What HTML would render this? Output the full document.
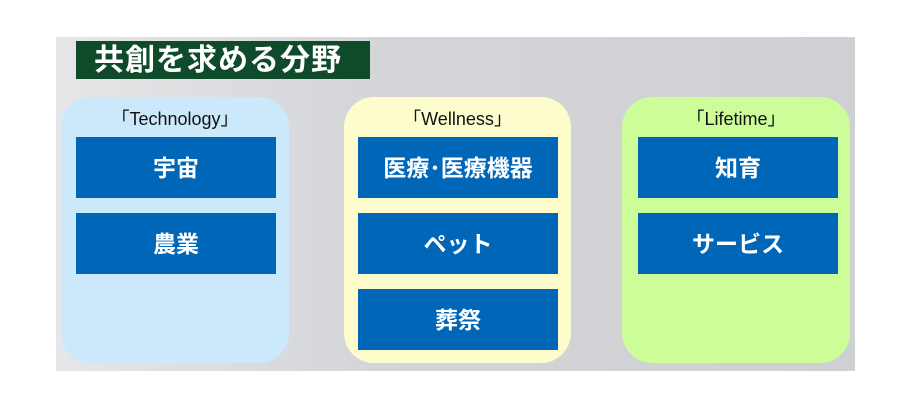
<!DOCTYPE html>
<html><head><meta charset="utf-8"><style>
body{margin:0;width:909px;height:408px;background:#fff;position:relative;overflow:hidden;font-family:"Liberation Sans","Noto Sans CJK JP",sans-serif}
.bg{position:absolute;left:56px;top:37px;width:799px;height:334px;background:linear-gradient(90deg,#e6e6e8 0%,#d4d5d9 40%,#cfd0d4 100%)}
.title{position:absolute;left:76px;top:41px;width:294px;height:38px;background:#0f4a2a;color:#fff;font-size:30px;font-weight:bold;line-height:40px;padding-left:18px;box-sizing:border-box;letter-spacing:1px}
.p{position:absolute;top:97px;height:266px;border-radius:30px}
.h{position:absolute;top:8px;left:0;right:0;text-align:center;font-size:18px;color:#111}
.b{position:absolute;width:200px;height:61px;background:#0066b8;color:#fff;font-weight:bold;font-size:23px;line-height:63px;text-align:center}
</style></head><body>
<div class="bg"></div>
<div class="title">共創を求める分野</div>
<div class="p" style="left:61px;width:228px;background:#cce9fb"><div class="h">「Technology」</div></div>
<div class="p" style="left:344px;width:227px;background:#fdfccc"><div class="h">「Wellness」</div></div>
<div class="p" style="left:622px;width:228px;background:#ccfd99"><div class="h">「Lifetime」</div></div>
<div class="b" style="left:76px;top:137px">宇宙</div>
<div class="b" style="left:76px;top:213px">農業</div>
<div class="b" style="left:358px;top:137px">医療･医療機器</div>
<div class="b" style="left:358px;top:213px">ペット</div>
<div class="b" style="left:358px;top:289px">葬祭</div>
<div class="b" style="left:638px;top:137px">知育</div>
<div class="b" style="left:638px;top:213px">サービス</div>
</body></html>
